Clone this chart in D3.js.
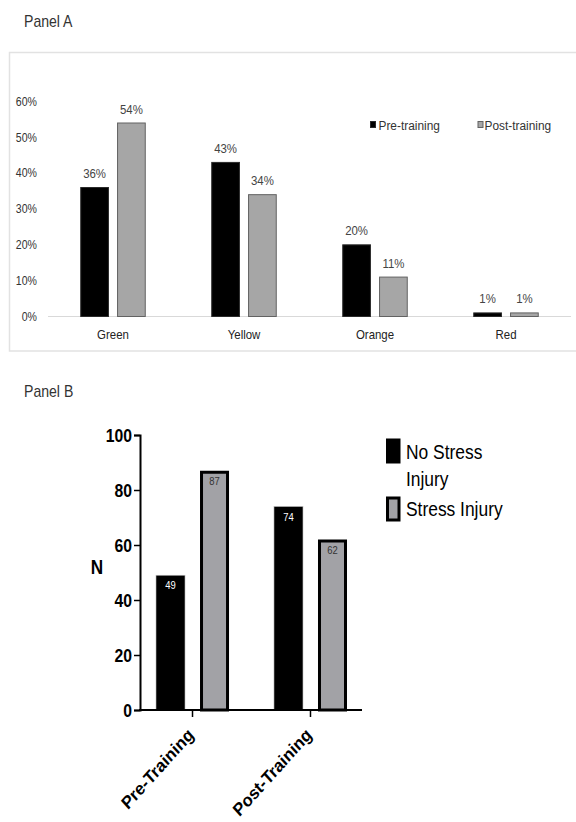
<!DOCTYPE html>
<html>
<head>
<meta charset="utf-8">
<script src="https://cdn.jsdelivr.net/npm/d3@7"></script>
<style>
  html, body { margin: 0; padding: 0; background: #fff; }
  svg { display: block; font-family: "Liberation Sans", Arial, sans-serif; }
</style>
</head>
<body>
<svg id="chart" width="576" height="822"></svg>
<script>
// Panel A: share of participants per colour zone, before and after training
const zoneCategories = ["Green", "Yellow", "Orange", "Red"];
const zoneSeries = ["Pre-training", "Post-training"];
const preTraining = [36, 43, 20, 1];
const postTraining = [54, 34, 11, 1];
const pctTicks = [0, 10, 20, 30, 40, 50, 60];

// Panel B: counts with and without stress injury
const phaseCategories = ["Pre-Training", "Post-Training"];
const injurySeries = ["No Stress Injury", "Stress Injury"];
const noStressInjury = [49, 74];
const stressInjury = [87, 62];
const countTicks = [0, 20, 40, 60, 80, 100];

const svg = d3.select("#chart");
const SX = 0.88; // narrow type used throughout

function squashedText(parent, x, y, txt, size, anchor, fill, weight, sx) {
  return parent.append("text")
    .attr("transform", `translate(${x},${y}) scale(${sx == null ? SX : sx},1)`)
    .attr("text-anchor", anchor || "start")
    .attr("font-size", size)
    .attr("font-weight", weight || "normal")
    .attr("fill", fill || "#333")
    .text(txt);
}

/* ---------------- Panel A ---------------- */
const A = svg.append("g");
squashedText(A, 24, 27, "Panel A", 16, "start", "#333");

A.append("rect")
  .attr("x", 9.5).attr("y", 52.5)
  .attr("width", 620).attr("height", 298.5)
  .attr("fill", "none").attr("stroke", "#e2e2e2").attr("stroke-width", 1.5);

const yA = d3.scaleLinear().domain([0, 60]).range([316, 101]);
const xA = d3.scaleBand().domain(zoneCategories).range([47.5, 571.5])
  .paddingInner(0.5).paddingOuter(0.25);
const xAsub = d3.scaleBand().domain(zoneSeries).range([0, xA.bandwidth()]).paddingInner(0.22);

const zoneRows = zoneCategories.map((c, i) => ({
  cat: c,
  vals: [
    { s: zoneSeries[0], v: preTraining[i] },
    { s: zoneSeries[1], v: postTraining[i] }
  ]
}));

// y tick labels (no axis line)
const yAxisA = A.append("g").attr("transform", "translate(48,0)")
  .call(d3.axisLeft(yA).tickValues(pctTicks).tickSize(0).tickFormat(d => d + "%"));
yAxisA.select(".domain").remove();
yAxisA.selectAll("text")
  .attr("x", null).attr("dy", "0.36em")
  .attr("transform", `translate(-11,0) scale(${SX},1)`)
  .attr("font-size", 12).attr("fill", "#333")
  .attr("font-family", "Liberation Sans, Arial, sans-serif");

// baseline
A.append("line")
  .attr("x1", 48).attr("x2", 571)
  .attr("y1", yA(0) + 0.5).attr("y2", yA(0) + 0.5)
  .attr("stroke", "#d9d9d9").attr("stroke-width", 1.2);

// category labels
const xAxisA = A.append("g").attr("transform", `translate(0,${yA(0)})`)
  .call(d3.axisBottom(xA).tickSize(0));
xAxisA.select(".domain").remove();
xAxisA.selectAll("text")
  .attr("y", null).attr("dy", null)
  .attr("transform", `translate(0,22.5) scale(${SX},1)`)
  .attr("font-size", 13).attr("fill", "#222")
  .attr("font-family", "Liberation Sans, Arial, sans-serif");

const zoneFill = d3.scaleOrdinal().domain(zoneSeries).range(["#000000", "#a6a6a6"]);
const zoneStroke = d3.scaleOrdinal().domain(zoneSeries).range(["#2a2a2a", "#626262"]);

const groupsA = A.selectAll(".zone").data(zoneRows).join("g")
  .attr("transform", d => `translate(${xA(d.cat)},0)`);

groupsA.selectAll("rect").data(d => d.vals).join("rect")
  .attr("x", d => xAsub(d.s) + 0.5)
  .attr("y", d => yA(d.v) + 0.5)
  .attr("width", xAsub.bandwidth() - 1)
  .attr("height", d => yA(0) - yA(d.v))
  .attr("fill", d => zoneFill(d.s))
  .attr("stroke", d => zoneStroke(d.s))
  .attr("stroke-width", 1);

groupsA.each(function (d) {
  const g = d3.select(this);
  d.vals.forEach(p => {
    squashedText(g, xAsub(p.s) + xAsub.bandwidth() / 2, yA(p.v) - 9,
      p.v + "%", 13, "middle", "#444");
  });
});

// legend A
const legA = [
  { s: zoneSeries[0], x: 370, tx: 378.5 },
  { s: zoneSeries[1], x: 477.5, tx: 484.5 }
];
legA.forEach(l => {
  A.append("rect")
    .attr("x", l.x + 0.5).attr("y", 121.5)
    .attr("width", 5).attr("height", 6)
    .attr("fill", zoneFill(l.s)).attr("stroke", zoneStroke(l.s)).attr("stroke-width", 1);
  squashedText(A, l.tx, 129.5, l.s, 13.5, "start", "#333");
});

/* ---------------- Panel B ---------------- */
const B = svg.append("g");
squashedText(B, 24, 397, "Panel B", 16, "start", "#333");

const yB = d3.scaleLinear().domain([0, 100]).range([710, 435]);
const xB = d3.scaleBand().domain(phaseCategories).range([140, 363])
  .paddingInner(0.381).paddingOuter(0.1356);
const xBsub = d3.scaleBand().domain(injurySeries).range([0, xB.bandwidth()]).paddingInner(0.341);

const phaseRows = phaseCategories.map((c, i) => ({
  cat: c,
  vals: [
    { s: injurySeries[0], v: noStressInjury[i] },
    { s: injurySeries[1], v: stressInjury[i] }
  ]
}));

const groupsB = B.selectAll(".phase").data(phaseRows).join("g")
  .attr("transform", d => `translate(${xB(d.cat)},0)`);

groupsB.each(function (d) {
  const g = d3.select(this);
  d.vals.forEach(p => {
    const x0 = xBsub(p.s), w = xBsub.bandwidth();
    const top = yB(p.v), bottom = yB(0);
    if (p.s === injurySeries[0]) {
      g.append("rect")
        .attr("x", x0).attr("y", top)
        .attr("width", w).attr("height", bottom - top)
        .attr("fill", "#000").attr("stroke", "#bdbdbd").attr("stroke-width", 0.6);
      squashedText(g, x0 + w / 2, top + 14, String(p.v), 10.5, "middle", "#fff", "normal", 0.9);
    } else {
      g.append("rect")
        .attr("x", x0 + 1.5).attr("y", top + 1.5)
        .attr("width", w - 3).attr("height", bottom - top - 1.5)
        .attr("fill", "#a2a2a6").attr("stroke", "#000").attr("stroke-width", 3);
      squashedText(g, x0 + w / 2, top + 14, String(p.v), 10.5, "middle", "#333", "normal", 0.9);
    }
  });
});

// y axis
const yAxisB = B.append("g").attr("transform", "translate(140,0)")
  .call(d3.axisLeft(yB).tickValues(countTicks).tickSize(6).tickPadding(2));
yAxisB.select(".domain").attr("stroke", "#000").attr("stroke-width", 2);
yAxisB.selectAll(".tick line").attr("stroke", "#000").attr("stroke-width", 1.5);
yAxisB.selectAll("text")
  .attr("x", null).attr("dy", "0.36em")
  .attr("transform", "translate(-8,0) scale(0.9,1)")
  .attr("font-size", 17.5).attr("font-weight", "bold").attr("fill", "#000")
  .attr("font-family", "Liberation Sans, Arial, sans-serif");

// x axis
const xAxisB = B.append("g").attr("transform", `translate(0,${yB(0)})`)
  .call(d3.axisBottom(xB).tickSize(7).tickSizeOuter(0));
xAxisB.select(".domain").attr("stroke", "#000").attr("stroke-width", 2)
  .attr("d", "M139,0H362");
xAxisB.selectAll(".tick line").attr("stroke", "#000").attr("stroke-width", 1.5);
xAxisB.selectAll("text")
  .attr("y", null).attr("dy", null)
  .attr("text-anchor", "end")
  .attr("transform", "translate(2.2,26) scale(0.9,1) rotate(-45)")
  .attr("font-size", 18).attr("font-weight", "bold").attr("fill", "#000")
  .attr("font-family", "Liberation Sans, Arial, sans-serif");

// y title
squashedText(B, 97, 574, "N", 19.5, "middle", "#000", "bold", 0.88);

// legend B
B.append("rect")
  .attr("x", 386).attr("y", 438.5).attr("width", 14.5).attr("height", 25)
  .attr("fill", "#000");
B.append("rect")
  .attr("x", 387.5).attr("y", 498).attr("width", 11.5).attr("height", 22)
  .attr("fill", "#a2a2a6").attr("stroke", "#000").attr("stroke-width", 3);
squashedText(B, 406, 458.5, "No Stress", 20, "start", "#000", "normal", 0.87);
squashedText(B, 406, 486, "Injury", 20, "start", "#000", "normal", 0.87);
squashedText(B, 406, 516, "Stress Injury", 20, "start", "#000", "normal", 0.87);
</script>
</body>
</html>
